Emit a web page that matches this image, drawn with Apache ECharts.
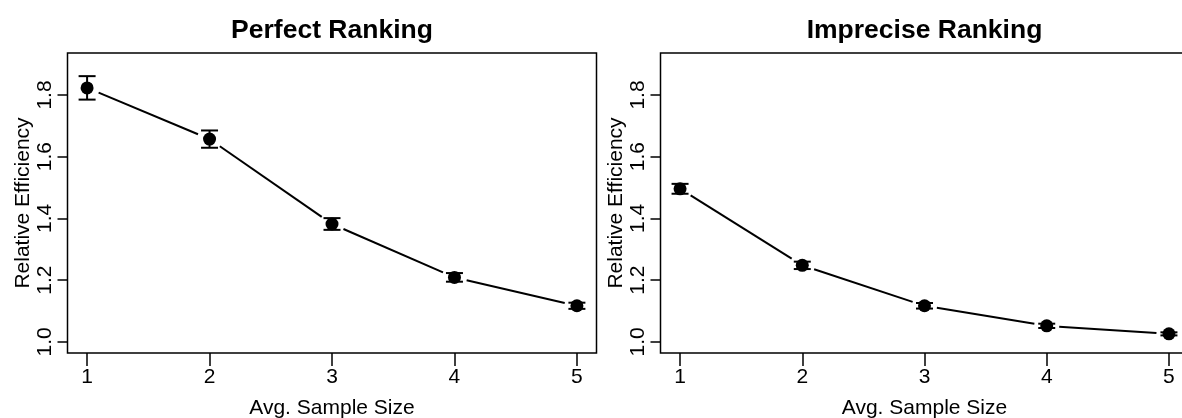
<!DOCTYPE html>
<html>
<head>
<meta charset="utf-8">
<script src="https://cdn.jsdelivr.net/npm/echarts@6/dist/echarts.min.js"></script>
<style>
html,body{margin:0;padding:0;background:#fff;}
#chart{width:1182px;height:418px;}
</style>
</head>
<body>
<div id="chart"></div>
<script>
// ---- data ----
var sampleSize = [1, 2, 3, 4, 5];
var xTicks = [1, 2, 3, 4, 5];
var yTicks = [1.0, 1.2, 1.4, 1.6, 1.8];
var perfectRE = [1.823, 1.657, 1.382, 1.209, 1.117];
var perfectErr = [0.038, 0.028, 0.019, 0.014, 0.010];
var impreciseRE = [1.496, 1.248, 1.117, 1.052, 1.026];
var impreciseErr = [0.016, 0.012, 0.009, 0.007, 0.005];
var panelTitles = ['Perfect Ranking', 'Imprecise Ranking'];

var FONT = 'Liberation Sans, Arial, Helvetica, sans-serif';
var chart = echarts.init(document.getElementById('chart'));

var grids = [
  {left: 67.5, top: 53, width: 529, height: 300},
  {left: 660.5, top: 53, width: 528, height: 300}
];

function segData(xs, ys) {
  var d = [];
  for (var i = 0; i < xs.length - 1; i++) d.push([xs[i], ys[i], xs[i + 1], ys[i + 1]]);
  return d;
}
function errData(xs, ys, es) {
  return xs.map(function (x, i) { return [x, ys[i] - es[i], ys[i] + es[i]]; });
}
var GAP = 12.5;
function renderSeg(params, api) {
  var p1 = api.coord([api.value(0), api.value(1)]);
  var p2 = api.coord([api.value(2), api.value(3)]);
  var dx = p2[0] - p1[0], dy = p2[1] - p1[1];
  var L = Math.sqrt(dx * dx + dy * dy);
  var ux = dx / L, uy = dy / L;
  return {
    type: 'line',
    shape: {x1: p1[0] + ux * GAP, y1: p1[1] + uy * GAP, x2: p2[0] - ux * GAP, y2: p2[1] - uy * GAP},
    style: {stroke: '#000', lineWidth: 2}
  };
}
var CAP = 8.5;
function renderErr(params, api) {
  var lo = api.coord([api.value(0), api.value(1)]);
  var hi = api.coord([api.value(0), api.value(2)]);
  var st = {stroke: '#000', lineWidth: 2};
  return {
    type: 'group',
    children: [
      {type: 'line', shape: {x1: lo[0], y1: lo[1], x2: hi[0], y2: hi[1]}, style: st},
      {type: 'line', shape: {x1: lo[0] - CAP, y1: lo[1], x2: lo[0] + CAP, y2: lo[1]}, style: st},
      {type: 'line', shape: {x1: hi[0] - CAP, y1: hi[1], x2: hi[0] + CAP, y2: hi[1]}, style: st}
    ]
  };
}

var xAxes = [], yAxes = [], series = [];
[[perfectRE, perfectErr], [impreciseRE, impreciseErr]].forEach(function (d, k) {
  xAxes.push({
    type: 'value', gridIndex: k, min: 0.84, max: 5.16,
    name: 'Avg. Sample Size', nameLocation: 'middle', nameGap: 45,
    nameTextStyle: {fontFamily: FONT, fontSize: 21, color: '#000'},
    axisLine: {show: false},
    splitLine: {show: false},
    axisTick: {show: true, length: 13, customValues: xTicks, lineStyle: {color: '#000', width: 1.5}},
    axisLabel: {customValues: xTicks, margin: 14, fontFamily: FONT, fontSize: 21, color: '#000'}
  });
  yAxes.push({
    type: 'value', gridIndex: k, min: 0.964, max: 1.936,
    name: 'Relative Efficiency', nameLocation: 'middle', nameGap: 34, nameRotate: 90,
    nameTextStyle: {fontFamily: FONT, fontSize: 21, color: '#000'},
    axisLine: {show: false},
    splitLine: {show: false},
    axisTick: {show: true, length: 10, customValues: yTicks, lineStyle: {color: '#000', width: 1.5}},
    axisLabel: {customValues: yTicks, rotate: 90, margin: 12, fontFamily: FONT, fontSize: 21, color: '#000',
      formatter: function (v) { return v.toFixed(1); }}
  });
  series.push({
    type: 'custom', xAxisIndex: k, yAxisIndex: k, renderItem: renderSeg,
    data: segData(sampleSize, d[0]), encode: {x: [0, 2], y: [1, 3]}, silent: true, z: 2
  });
  series.push({
    type: 'custom', xAxisIndex: k, yAxisIndex: k, renderItem: renderErr,
    data: errData(sampleSize, d[0], d[1]), encode: {x: 0, y: [1, 2]}, silent: true, z: 3
  });
  series.push({
    type: 'scatter', xAxisIndex: k, yAxisIndex: k, symbol: 'circle', symbolSize: 13,
    itemStyle: {color: '#000', opacity: 1},
    data: sampleSize.map(function (x, i) { return [x, d[0][i]]; }), silent: true, z: 4
  });
});

chart.setOption({
  animation: false,
  backgroundColor: '#fff',
  grid: grids.map(function (g) {
    return {left: g.left, top: g.top, width: g.width, height: g.height, show: true,
      outerBoundsMode: 'none',
      borderColor: '#000', borderWidth: 1.5, backgroundColor: 'transparent', containLabel: false};
  }),
  graphic: panelTitles.map(function (t, k) {
    return {type: 'text', x: grids[k].left + grids[k].width / 2, y: 31,
      style: {text: t, font: 'bold 26.5px ' + FONT, fill: '#000', textAlign: 'center', textVerticalAlign: 'middle'}};
  }),
  xAxis: xAxes,
  yAxis: yAxes,
  series: series
});
</script>
</body>
</html>
